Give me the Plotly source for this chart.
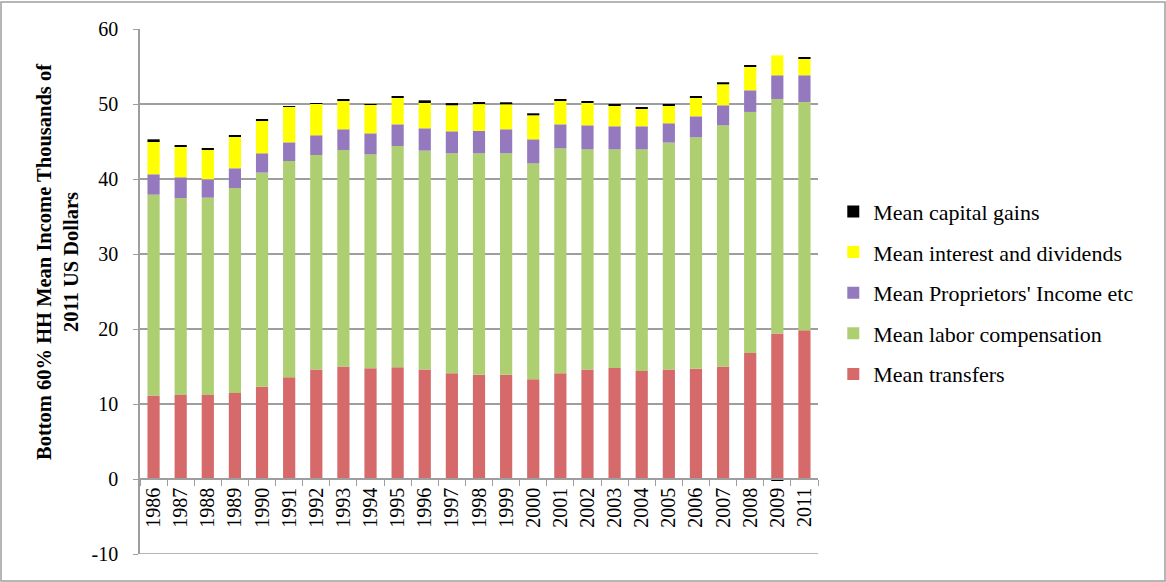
import plotly.graph_objects as go

years = ["1986", "1987", "1988", "1989", "1990", "1991", "1992", "1993", "1994",
         "1995", "1996", "1997", "1998", "1999", "2000", "2001", "2002", "2003",
         "2004", "2005", "2006", "2007", "2008", "2009", "2011"]

transfers = [11.15, 11.2, 11.2, 11.46, 12.3, 13.56, 14.6, 15.0, 14.77, 14.9, 14.6, 14.1,
             13.9, 13.9, 13.3, 14.1, 14.6, 14.8, 14.4, 14.6, 14.7, 15.0, 16.8, 19.4, 19.85]
labor = [26.77, 26.27, 26.31, 27.34, 28.55, 28.84, 28.6, 28.87, 28.52, 29.5, 29.18, 29.33,
         29.53, 29.53, 28.79, 29.99, 29.36, 29.16, 29.56, 30.25, 30.86, 32.16, 32.14, 31.27, 30.42]
proprietors = [2.71, 2.76, 2.45, 2.63, 2.58, 2.49, 2.63, 2.76, 2.8, 2.89, 2.98, 2.93,
               3.0, 3.2, 3.2, 3.2, 3.2, 3.07, 3.07, 2.58, 2.8, 2.67, 2.89, 3.16, 3.56]
interest = [4.4, 4.13, 4.0, 4.26, 4.4, 4.71, 4.2, 3.86, 3.81, 3.6, 3.47, 3.47,
            3.56, 3.33, 3.2, 3.2, 3.07, 2.8, 2.4, 2.4, 2.53, 2.8, 3.2, 2.66, 2.26]
capital_gains = [0.26, 0.13, 0.13, 0.14, 0.13, 0.09, 0.09, 0.14, 0.06, 0.14, 0.26, 0.29,
                 0.27, 0.27, 0.27, 0.14, 0.13, 0.13, 0.13, 0.13, 0.14, 0.27, 0.13, -0.2, 0.13]

y_min, y_max = -10, 60
y_tick_values = [-10, 0, 10, 20, 30, 40, 50, 60]
y_tick_labels = ["-10", "0", "10", "20", "30", "40", "50", "60"]

series = [
    ("Mean transfers", transfers, "#D66A6A"),
    ("Mean labor compensation", labor, "#ADCF72"),
    ("Mean Proprietors' Income etc", proprietors, "#9479BE"),
    ("Mean interest and dividends", interest, "#FFFF00"),
    ("Mean capital gains", capital_gains, "#000000"),
]

FONT = "Liberation Serif"
GRID = "#9E9E9E"

fig = go.Figure()
n = len(series)
for i, (name, vals, col) in enumerate(series):
    fig.add_trace(go.Bar(x=years, y=vals, name=name, marker_color=col,
                         marker_line_width=0, legendgroup=str(i),
                         legendrank=1000 + (n - i)))

L, R, T, B = 140, 348, 29, 28
W, H = 1166, 582
pw, ph = W - L - R, H - T - B

fig.update_layout(
    width=W, height=H,
    margin=dict(l=L, r=R, t=T, b=B),
    barmode="relative",
    bargap=0.55,
    plot_bgcolor="white",
    paper_bgcolor="white",
    font=dict(family=FONT, size=20, color="black"),
    showlegend=True,
    legend=dict(
        traceorder="grouped",
        tracegroupgap=9,
        x=1.055 - 22 / pw, y=0.692, xanchor="left", yanchor="top",
        font=dict(family=FONT, size=22, color="black"),
        itemwidth=30,
    ),
    xaxis=dict(
        type="category",
        anchor="free", position=1/7,
        showline=True, linecolor=GRID, linewidth=1.5,
        ticks="outside", tickson="boundaries", ticklen=6, tickcolor=GRID,
        tickangle=-90,
        tickfont=dict(family=FONT, size=20, color="black"),
        showgrid=False,
    ),
    yaxis=dict(
        range=[y_min, y_max],
        tickmode="array", tickvals=y_tick_values, ticktext=y_tick_labels,
        showline=True, linecolor=GRID, linewidth=1.5,
        ticks="outside", ticklen=5, tickcolor=GRID,
        ticklabelstandoff=11,
        showgrid=True, gridcolor=GRID, gridwidth=1.5,
        zeroline=False,
        tickfont=dict(family=FONT, size=20, color="black"),
    ),
    annotations=[
        dict(
            text="<b>Bottom 60% HH Mean Income Thousands of</b><br><b>2011 US Dollars</b>",
            textangle=-90, showarrow=False,
            xref="paper", yref="paper",
            x=-(L - 57) / pw, y=(H - B - 262) / ph,
            xanchor="center", yanchor="middle",
            font=dict(family=FONT, size=20.5, color="black"),
        )
    ],
    shapes=[
        dict(type="rect", xref="paper", yref="paper",
             x0=-(L - 1) / pw, x1=(W - L - 1) / pw,
             y0=-(B - 1) / ph, y1=(H - T - 1) / ph,
             line=dict(color=GRID, width=1.5), fillcolor="rgba(0,0,0,0)", layer="below"),
        # bottom gridline at the lower end of the y range
        dict(type="line", xref="paper", yref="y", x0=0, x1=1, y0=y_min, y1=y_min,
             line=dict(color=GRID, width=1.5), layer="below"),
    ],
)

fig.write_html("out.html",
               config={"displayModeBar": False},
               post_script="document.body.style.margin='0';document.body.style.padding='0';")
